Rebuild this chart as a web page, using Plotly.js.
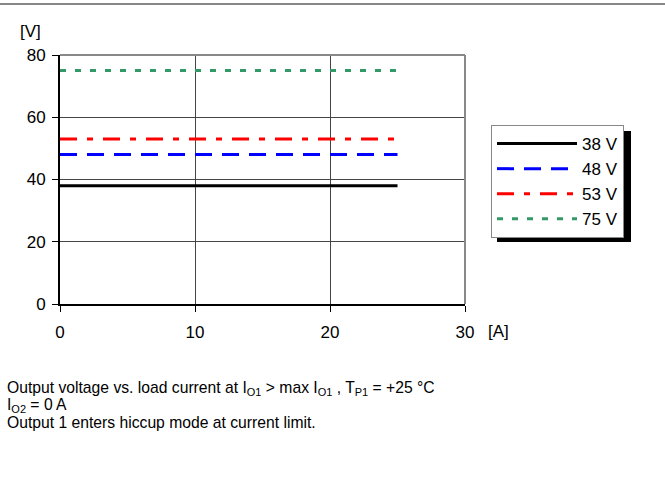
<!DOCTYPE html>
<html>
<head>
<meta charset="utf-8">
<script src="https://cdn.plot.ly/plotly-3.0.1.min.js"></script>
<style>
html,body{margin:0;padding:0;background:#fff;}
#chart{width:665px;height:501px;}
</style>
</head>
<body>
<div id="chart"></div>
<script>
// Data
var currentA = [0, 25];
var seriesNames = ['38 V', '48 V', '53 V', '75 V'];
var v38 = [38, 38];
var v48 = [48, 48];
var v53 = [53, 53];
var v75 = [75, 75];
var xTicks = [0, 10, 20, 30];
var yTicks = [0, 20, 40, 60, 80];
var captionLines = [
  'Output voltage vs. load current at I<sub>O1</sub> &gt; max I<sub>O1</sub> , T<sub>P1</sub> = +25 °C',
  'I<sub>O2</sub> = 0 A',
  'Output 1 enters hiccup mode at current limit.'
];

var FONT = 'Liberation Sans, Arial, sans-serif';
var L = 60, R = 200, T = 55, B = 197, W = 665, H = 501;
var pw = W - L - R, ph = H - T - B;
function px(x){ return (x - L) / pw; }
function py(y){ return (H - B - y) / ph; }

var styles = [
  {color:'#000000', dash:'solid'},
  {color:'#0000FF', dash:'17px,10px'},
  {color:'#FF0000', dash:'17px,10px,6px,10px'},
  {color:'#339966', dash:'6px,9px'}
];
var vals = [v38, v48, v53, v75];
var traces = vals.map(function(v, i){
  return {
    x: currentA, y: v, type:'scatter', mode:'lines', name: seriesNames[i],
    legendgroup: 'g'+i,
    line: {color: styles[i].color, dash: styles[i].dash, width: 3},
    hoverinfo:'skip'
  };
});

var annotations = [
  {xref:'paper', yref:'paper', x:px(18), y:py(32), xanchor:'left', yanchor:'middle',
   text:'[V]', showarrow:false, font:{family:FONT, size:17, color:'#000'}},
  {xref:'paper', yref:'paper', x:px(486), y:py(331), xanchor:'left', yanchor:'middle',
   text:'[A]', showarrow:false, font:{family:FONT, size:17, color:'#000'}}
];
var capY = [388, 405, 422];
captionLines.forEach(function(t, i){
  annotations.push({xref:'paper', yref:'paper', x:px(5), y:py(capY[i]), xanchor:'left', yanchor:'middle',
    align:'left', text:t, showarrow:false, font:{family:FONT, size:15.7, color:'#000'}});
});

var layout = {
  width: W, height: H,
  margin: {l: L, r: R, t: T, b: B, pad: 0},
  paper_bgcolor:'#fff', plot_bgcolor:'#fff',
  font: {family: FONT, size: 17, color:'#000'},
  showlegend: true,
  legend: {
    x: px(491), y: py(125), xanchor:'left', yanchor:'top',
    bgcolor:'#fff', bordercolor:'#888', borderwidth:1,
    font:{family:FONT, size:17, color:'#000'},
    itemwidth: 80, tracegroupgap: 9, traceorder:'normal'
  },
  xaxis: {
    range:[0,30], tickvals: xTicks, ticktext: xTicks.map(String),
    showgrid:true, gridcolor:'#444', gridwidth:1,
    showline:true, linecolor:'#000', linewidth:2, mirror:false,
    ticks:'outside', ticklen:6, tickcolor:'#000', tickwidth:1,
    ticklabelstandoff: 6,
    zeroline:false, fixedrange:true,
    tickfont:{family:FONT, size:17, color:'#000'}
  },
  yaxis: {
    range:[0,80], tickvals: yTicks, ticktext: yTicks.map(String),
    showgrid:true, gridcolor:'#444', gridwidth:1,
    showline:true, linecolor:'#000', linewidth:2, mirror:false,
    ticks:'outside', ticklen:6, tickcolor:'#000', tickwidth:1,
    ticklabelstandoff: 3,
    zeroline:false, fixedrange:true,
    tickfont:{family:FONT, size:17, color:'#000'}
  },
  shapes: [
    {type:'line', xref:'paper', yref:'paper', x0:px(0), x1:px(665), y0:py(4), y1:py(4),
     line:{color:'#888', width:2}},
    {type:'line', xref:'paper', yref:'paper', x0:0, x1:1, y0:1, y1:1, line:{color:'#888', width:2}, layer:'above'},
    {type:'line', xref:'paper', yref:'paper', x0:1, x1:1, y0:0, y1:1, line:{color:'#888', width:2}, layer:'above'},
    {type:'rect', xref:'paper', yref:'paper', x0:px(497), x1:px(631), y0:py(242), y1:py(131),
     fillcolor:'#000', line:{width:0}, layer:'above'}
  ],
  annotations: annotations
};

Plotly.newPlot('chart', traces, layout, {displayModeBar:false, staticPlot:true});
</script>
</body>
</html>
